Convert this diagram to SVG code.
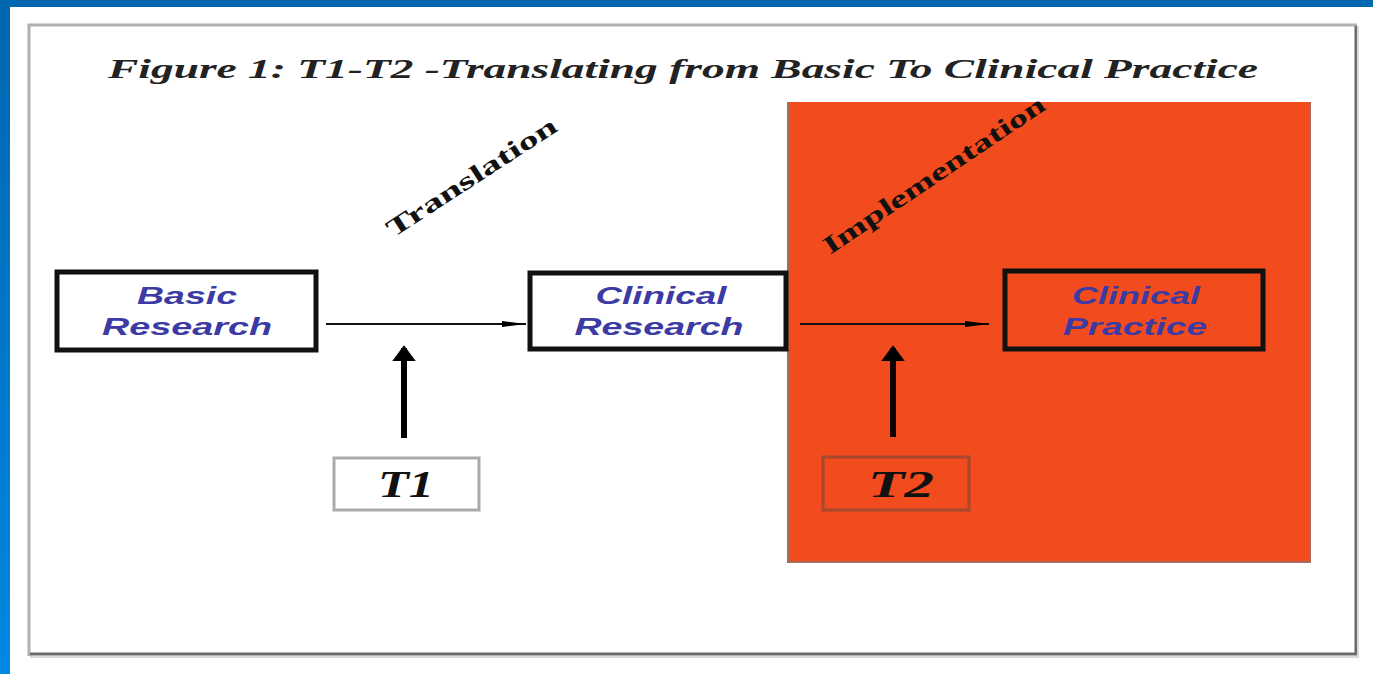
<svg xmlns="http://www.w3.org/2000/svg" width="1373" height="674" viewBox="0 0 1373 674">
<defs>
<linearGradient id="lb" x1="0" y1="0" x2="0" y2="1"><stop offset="0" stop-color="#0066b0"/><stop offset="1" stop-color="#0088e2"/></linearGradient>
<marker id="ah" viewBox="0 0 10 10" refX="10" refY="5" markerWidth="24" markerHeight="10" markerUnits="userSpaceOnUse" orient="auto" preserveAspectRatio="none"><path d="M0,2 L10,5 L0,8 Z" fill="#000"/></marker>
<marker id="ah2" viewBox="0 0 6 10" refX="5" refY="5" markerWidth="16" markerHeight="24" markerUnits="userSpaceOnUse" orient="auto" preserveAspectRatio="none"><path d="M0,0 L6,5 L0,10 Z" fill="#000"/></marker>
</defs>
<style>
.lbl{font-family:"Liberation Sans",Arial,sans-serif;font-weight:bold;font-style:italic;font-size:24px;fill:#3b3ba3;text-anchor:middle}
.tt{font-family:"Liberation Serif","Times New Roman",serif;font-weight:bold;font-style:italic;font-size:38px;fill:#111;text-anchor:middle}
.rot{font-family:"Liberation Serif","Times New Roman",serif;font-weight:bold;font-size:25px;fill:#111}
.box{stroke:#111;stroke-width:5}
</style>
<rect width="1373" height="674" fill="#fff"/>
<rect x="0" y="0" width="1373" height="7" fill="#0067b0"/>
<rect x="0" y="0" width="10" height="674" fill="url(#lb)"/>
<!-- frame -->
<rect x="28" y="25" width="1329" height="630" fill="#fff"/>
<path d="M29,656 V25 H1357" fill="none" stroke="#b0b0b0" stroke-width="3"/>
<path d="M30,654 H1356 V26" fill="none" stroke="#6a6a6a" stroke-width="3"/>
<path d="M30,657 H1358 V26" fill="none" stroke="#dadada" stroke-width="2"/>
<text x="683" y="78" font-family="Liberation Serif,'Times New Roman',serif" font-weight="bold" font-style="italic" font-size="28" fill="#222" text-anchor="middle" textLength="1150" lengthAdjust="spacingAndGlyphs">Figure 1: T1-T2 -Translating from Basic To Clinical Practice</text>
<!-- red region -->
<g id="implementation-region">
<rect x="787" y="102" width="523" height="460" fill="#f24b1d"/>
<path d="M788,102 V562 H1310 V102" fill="none" stroke="#a86a5c" stroke-width="2"/>
<text class="rot" transform="translate(830,255) rotate(-34)" textLength="262" lengthAdjust="spacingAndGlyphs">Implementation</text>
</g>
<g id="translation-label">
<text class="rot" transform="translate(393,238) rotate(-33)" textLength="198" lengthAdjust="spacingAndGlyphs">Translation</text>
</g>
<g id="basic-research">
<rect x="57" y="272" width="259" height="78" fill="#fff" class="box"/>
<text class="lbl" x="187" y="304" textLength="100" lengthAdjust="spacingAndGlyphs">Basic</text>
<text class="lbl" x="187" y="335" textLength="170" lengthAdjust="spacingAndGlyphs">Research</text>
</g>
<g id="clinical-research">
<rect x="530" y="273" width="256" height="76" fill="#fff" class="box"/>
<text class="lbl" x="661" y="304" textLength="131" lengthAdjust="spacingAndGlyphs">Clinical</text>
<text class="lbl" x="659" y="335" textLength="169" lengthAdjust="spacingAndGlyphs">Research</text>
</g>
<g id="clinical-practice">
<rect x="1005" y="271" width="258" height="78" fill="#f24b1d" class="box"/>
<text class="lbl" x="1136" y="304" textLength="128" lengthAdjust="spacingAndGlyphs">Clinical</text>
<text class="lbl" x="1135" y="335" textLength="144" lengthAdjust="spacingAndGlyphs">Practice</text>
</g>
<g id="t1">
<rect x="334" y="458" width="145" height="52" fill="#fff" stroke="#aaa" stroke-width="3"/>
<text class="tt" x="406" y="497" textLength="56" lengthAdjust="spacingAndGlyphs">T1</text>
</g>
<g id="t2">
<rect x="823" y="457" width="146" height="53" fill="#f24b1d" stroke="#a5492e" stroke-width="3"/>
<text class="tt" x="901" y="497" textLength="66" lengthAdjust="spacingAndGlyphs">T2</text>
</g>
<g id="connectors">
<line x1="326" y1="324" x2="526" y2="324" stroke="#111" stroke-width="2" marker-end="url(#ah)"/>
<line x1="800" y1="324" x2="989" y2="324" stroke="#111" stroke-width="2" marker-end="url(#ah)"/>
<line x1="404" y1="438" x2="404" y2="348" stroke="#000" stroke-width="6" marker-end="url(#ah2)"/>
<line x1="893" y1="437" x2="893" y2="348" stroke="#120000" stroke-width="6" marker-end="url(#ah2)"/>
</g>
</svg>
